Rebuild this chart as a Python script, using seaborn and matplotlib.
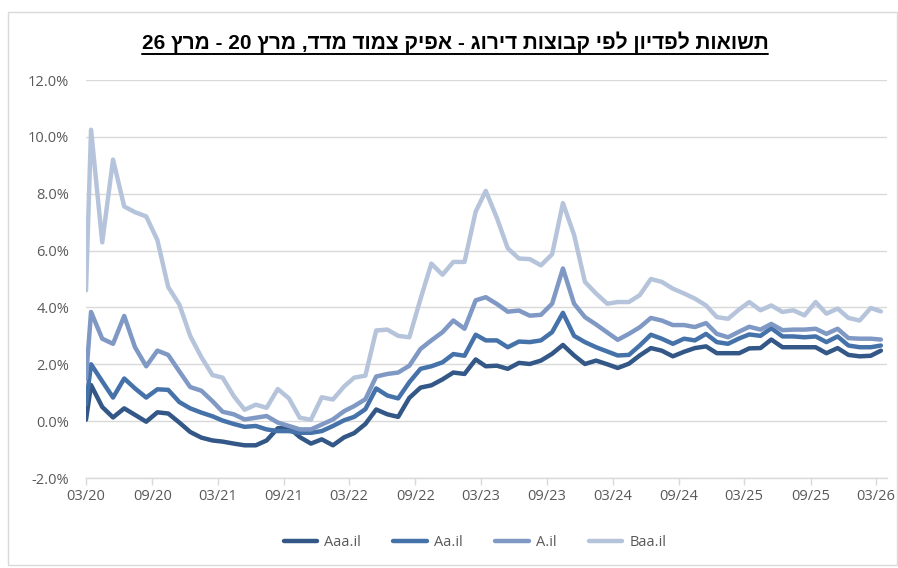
import re
import numpy as np
import pandas as pd
import matplotlib
matplotlib.use("Agg")
import matplotlib.pyplot as plt
import matplotlib.dates as mdates
from matplotlib.lines import Line2D
from matplotlib.patches import Rectangle
import seaborn as sns

# ---------------- data ----------------
title_text = "תשואות לפדיון לפי קבוצות דירוג - אפיק צמוד מדד, מרץ 20 - מרץ 26"
series_names = ["Aaa.il", "Aa.il", "A.il", "Baa.il"]
series_colors = ["#335786", "#4672AA", "#7F98C4", "#B6C4DB"]

# observation dates: start of period, then mid-month observations
start_date = ["2020-03-01"]
month_dates = list(pd.date_range("2020-03-01", "2026-03-01", freq="MS") + pd.Timedelta(days=14))
dates = pd.to_datetime(start_date + [d.strftime("%Y-%m-%d") for d in month_dates])

aaa = [0.05, 1.27, 0.50, 0.13, 0.45, 0.22, -0.02, 0.31, 0.27, -0.05,
       -0.38, -0.58, -0.68, -0.72, -0.79, -0.85, -0.85, -0.68, -0.25, -0.23,
       -0.56, -0.79, -0.64, -0.85, -0.57, -0.42, -0.10, 0.41, 0.24, 0.15,
       0.82, 1.18, 1.26, 1.47, 1.71, 1.66, 2.17, 1.93, 1.95, 1.84,
       2.05, 2.01, 2.13, 2.37, 2.68, 2.31, 2.01, 2.13, 2.00, 1.87,
       2.02, 2.31, 2.57, 2.48, 2.28, 2.44, 2.57, 2.63, 2.39, 2.39,
       2.39, 2.56, 2.57, 2.87, 2.60, 2.60, 2.60, 2.60, 2.39, 2.57,
       2.33, 2.28, 2.30, 2.48]
aa = [0.60, 2.00, 1.40, 0.83, 1.50, 1.15, 0.83, 1.12, 1.10, 0.67,
      0.45, 0.30, 0.17, 0.02, -0.10, -0.20, -0.17, -0.29, -0.35, -0.35,
      -0.41, -0.41, -0.35, -0.17, 0.03, 0.15, 0.42, 1.15, 0.90, 0.80,
      1.37, 1.84, 1.93, 2.07, 2.36, 2.30, 3.04, 2.84, 2.84, 2.60,
      2.80, 2.78, 2.84, 3.13, 3.81, 3.00, 2.78, 2.60, 2.45, 2.31,
      2.33, 2.66, 3.04, 2.90, 2.72, 2.90, 2.84, 3.07, 2.78, 2.72,
      2.91, 3.05, 3.00, 3.27, 2.98, 2.98, 2.95, 2.98, 2.78, 2.98,
      2.66, 2.60, 2.60, 2.66]
a = [1.50, 3.84, 2.90, 2.72, 3.70, 2.60, 1.93, 2.48, 2.33, 1.75,
     1.20, 1.07, 0.70, 0.33, 0.24, 0.06, 0.12, 0.18, -0.05, -0.17,
     -0.29, -0.29, -0.12, 0.06, 0.35, 0.53, 0.77, 1.57, 1.66, 1.71,
     1.95, 2.54, 2.84, 3.13, 3.54, 3.25, 4.25, 4.36, 4.12, 3.85,
     3.89, 3.71, 3.74, 4.13, 5.37, 4.13, 3.66, 3.40, 3.12, 2.86,
     3.07, 3.30, 3.63, 3.54, 3.38, 3.38, 3.31, 3.45, 3.07, 2.95,
     3.15, 3.32, 3.22, 3.42, 3.20, 3.22, 3.22, 3.25, 3.07, 3.25,
     2.92, 2.90, 2.90, 2.87]
baa = [4.60, 10.25, 6.29, 9.20, 7.55, 7.35, 7.20, 6.37, 4.72, 4.10,
       3.00, 2.25, 1.62, 1.53, 0.88, 0.40, 0.58, 0.47, 1.13, 0.80,
       0.12, 0.05, 0.84, 0.76, 1.22, 1.53, 1.60, 3.19, 3.22, 3.00,
       2.95, 4.30, 5.54, 5.15, 5.60, 5.60, 7.37, 8.10, 7.14, 6.08,
       5.72, 5.70, 5.48, 5.87, 7.67, 6.55, 4.90, 4.49, 4.13, 4.19,
       4.19, 4.43, 5.00, 4.90, 4.66, 4.49, 4.31, 4.07, 3.66, 3.60,
       3.93, 4.19, 3.90, 4.07, 3.84, 3.90, 3.72, 4.19, 3.78, 3.96,
       3.63, 3.54, 3.98, 3.86]

xtick_labels = ["03/20", "09/20", "03/21", "09/21", "03/22", "09/22", "03/23",
                "09/23", "03/24", "09/24", "03/25", "09/25", "03/26"]
yticks = [-2, 0, 2, 4, 6, 8, 10, 12]

# ---------------- frame ----------------
df = pd.DataFrame({"date": dates, "Aaa.il": aaa, "Aa.il": aa, "A.il": a, "Baa.il": baa})
long_df = df.melt(id_vars="date", var_name="series", value_name="value")

sns.set_theme(style="white")
plt.rcParams["font.family"] = ["Open Sans", "DejaVu Sans"]

W, H = 898, 568
fig = plt.figure(figsize=(W / 100, H / 100), dpi=100)
fig.patch.set_facecolor("white")
ax = fig.add_axes([86 / W, 1 - 478 / H, (887 - 86) / W, (478 - 80) / H])

sns.lineplot(data=long_df, x="date", y="value", hue="series", hue_order=series_names,
             palette=series_colors, linewidth=3.2, ax=ax, legend=True,
             solid_joinstyle="round", solid_capstyle="round")

# axes styling
ax.set_ylim(-2, 12)
ax.set_yticks(yticks)
ax.yaxis.set_major_formatter(matplotlib.ticker.FuncFormatter(lambda v, p: f"{v:.1f}%"))
ax.set_xlim(pd.Timestamp("2020-03-01"), pd.Timestamp("2026-04-01"))
tick_dates = [pd.Timestamp(f"20{lab[3:]}-{lab[:2]}-01") for lab in xtick_labels]
ax.set_xticks(tick_dates)
ax.set_xticklabels(xtick_labels)
ax.set_xlabel("")
ax.set_ylabel("")
ax.grid(axis="y", color="#D9D9D9", linewidth=1.0)
ax.grid(axis="x", visible=False)
ax.set_axisbelow(True)
for side in ["top", "right", "left"]:
    ax.spines[side].set_visible(False)
ax.spines["bottom"].set_color("#D9D9D9")
ax.spines["bottom"].set_linewidth(1.0)
ax.tick_params(axis="y", length=0, pad=12, labelsize=10.5, labelcolor="#595959")
ax.tick_params(axis="x", length=5, width=1, color="#D9D9D9", direction="out",
               pad=3, labelsize=10.5, labelcolor="#595959", bottom=True)
ax.set_facecolor("white")

# legend
leg = ax.legend(loc="center", bbox_to_anchor=(475 / W, 1 - 543 / H),
                bbox_transform=fig.transFigure, ncol=4, frameon=False,
                fontsize=10.5, handlelength=2.3, columnspacing=2.2, handletextpad=0.5)
for t in leg.get_texts():
    t.set_color("#595959")
for h in leg.get_lines():
    h.set_linewidth(3.2)

# title (Hebrew right-to-left converted to visual order)
def visual_order(s):
    r = s[::-1]
    return re.sub(r"\d+", lambda m: m.group(0)[::-1], r)

title = fig.text(455 / W, 1 - 42 / H, visual_order(title_text), ha="center", va="center",
                 fontsize=15, fontweight="bold", color="black",
                 family=["Liberation Sans", "DejaVu Sans"])

# chart border
fig.patches.append(Rectangle((8 / W, 3 / H), (897 - 8) / W, (565 - 12) / H,
                             transform=fig.transFigure, fill=False,
                             edgecolor="#D9D9D9", linewidth=1.0))

# underline the title
fig.canvas.draw()
bb = title.get_window_extent()
uy = (bb.y0 - 1.5) / H
fig.add_artist(Line2D([bb.x0 / W, bb.x1 / W], [uy, uy], transform=fig.transFigure,
                      color="black", linewidth=1.4))

fig.savefig("out.png", dpi=100, facecolor="white")
